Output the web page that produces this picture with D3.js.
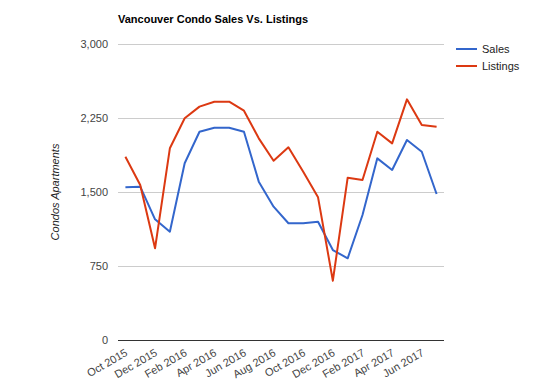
<!DOCTYPE html>
<html>
<head>
<meta charset="utf-8">
<script src="https://cdn.jsdelivr.net/npm/d3@7"></script>
<style>
  body { margin: 0; background: #fff; }
  svg { display: block; font-family: Arial, "Liberation Sans", sans-serif; }
</style>
</head>
<body>
<svg id="chart" width="534" height="386"></svg>
<script>
(function (d3) {
    'use strict';

    var months = ['Oct 2015', 'Nov 2015', 'Dec 2015', 'Jan 2016', 'Feb 2016', 'Mar 2016',
        'Apr 2016', 'May 2016', 'Jun 2016', 'Jul 2016', 'Aug 2016', 'Sep 2016',
        'Oct 2016', 'Nov 2016', 'Dec 2016', 'Jan 2017', 'Feb 2017', 'Mar 2017',
        'Apr 2017', 'May 2017', 'Jun 2017', 'Jul 2017'];

    var sales = [1548, 1554, 1223, 1098, 1791, 2111, 2152, 2152, 2111, 1605, 1351, 1183,
        1183, 1199, 912, 828, 1267, 1841, 1723, 2027, 1908, 1480];

    var listings = [1858, 1571, 929, 1943, 2247, 2365, 2415, 2415, 2324, 2044, 1817, 1953,
        1706, 1446, 601, 1645, 1622, 2111, 1993, 2439, 2179, 2162];

    var yTicks = [0, 750, 1500, 2250, 3000];

    var seriesNames = ['Sales', 'Listings'],
        colors = ['#3366cc', '#dc3912'];

    var margin = { top: 44, right: 90, bottom: 46, left: 118 },
        width = 534 - margin.left - margin.right,
        height = 386 - margin.top - margin.bottom;

    var x = d3.scaleBand().domain(months).range([0, width]).padding(0),
        y = d3.scaleLinear().domain([0, 3000]).range([height, 0]);

    var svg = d3.select('#chart');

    svg.append('text')
        .attr('x', margin.left)
        .attr('y', 23)
        .style('font-size', '11px')
        .style('font-weight', 'bold')
        .style('fill', '#000')
        .text('Vancouver Condo Sales Vs. Listings');

    var g = svg.append('g')
        .attr('transform', 'translate(' + margin.left + ',' + margin.top + ')');

    // gridlines
    g.append('g')
        .selectAll('line')
        .data(yTicks)
        .enter()
        .append('line')
        .attr('x1', 0)
        .attr('x2', width)
        .attr('y1', function (d) { return y(d); })
        .attr('y2', function (d) { return y(d); })
        .style('stroke', function (d) { return d === 0 ? '#333' : '#ccc'; })
        .style('stroke-width', 1)
        .attr('shape-rendering', 'crispEdges');

    // y labels
    g.append('g')
        .selectAll('text')
        .data(yTicks)
        .enter()
        .append('text')
        .attr('x', -10)
        .attr('y', function (d) { return y(d); })
        .attr('dy', '0.35em')
        .attr('text-anchor', 'end')
        .style('font-size', '11px')
        .style('fill', '#444')
        .text(d3.format(','));

    // x labels, every other month
    g.append('g')
        .selectAll('text')
        .data(months.filter(function (d, i) { return i % 2 === 0; }))
        .enter()
        .append('text')
        .attr('transform', function (d) {
            var px = x(d) + x.bandwidth() / 2 + 3;
            return 'translate(' + px + ',' + (height + 15) + ') rotate(-30)';
        })
        .attr('text-anchor', 'end')
        .style('font-size', '11px')
        .style('fill', '#444')
        .text(function (d) { return d; });

    // y axis title
    svg.append('text')
        .attr('transform', 'translate(59,' + (margin.top + height / 2) + ') rotate(-90)')
        .attr('text-anchor', 'middle')
        .style('font-size', '11px')
        .style('font-style', 'italic')
        .style('fill', '#222')
        .text('Condos Apartments');

    var line = d3.line()
        .x(function (d, i) { return x(months[i]) + x.bandwidth() / 2; })
        .y(function (d) { return y(d); });

    [sales, listings].forEach(function (s, k) {
        g.append('path')
            .datum(s)
            .attr('d', line)
            .style('fill', 'none')
            .style('stroke', colors[k])
            .style('stroke-width', 2)
            .style('stroke-linejoin', 'round');
    });

    var legend = svg.selectAll('.legend')
        .data(seriesNames)
        .enter()
        .append('g')
        .attr('class', 'legend')
        .attr('transform', function (d, i) {
            return 'translate(456,' + (49 + i * 17) + ')';
        });

    legend.append('line')
        .attr('x1', 0)
        .attr('x2', 21)
        .style('stroke', function (d, i) { return colors[i]; })
        .style('stroke-width', 2);

    legend.append('text')
        .attr('x', 26)
        .attr('dy', '0.35em')
        .style('font-size', '11px')
        .style('fill', '#222')
        .text(function (d) { return d; });
})(window.d3);
</script>
</body>
</html>
